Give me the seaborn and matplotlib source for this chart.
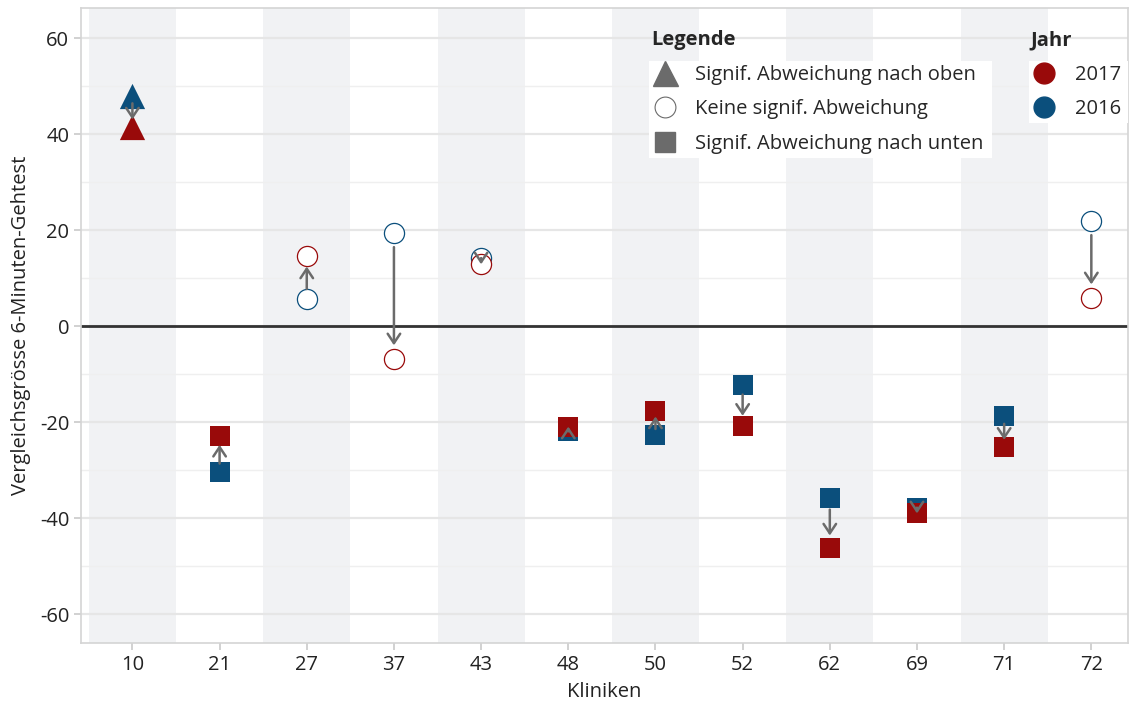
import matplotlib
matplotlib.use("Agg")
import matplotlib.pyplot as plt
from matplotlib.lines import Line2D
from matplotlib.patches import Rectangle
from matplotlib.transforms import IdentityTransform
import pandas as pd
import seaborn as sns

# Daten
kliniken = ["10", "21", "27", "37", "43", "48", "50", "52", "62", "69", "71", "72"]
wert_2016 = [48.0, -30.4, 5.6, 19.4, 14.2, -21.9, -22.6, -12.2, -35.7, -37.8, -18.8, 21.9]
wert_2017 = [41.5, -22.9, 14.6, -6.9, 12.9, -20.9, -17.6, -20.7, -46.1, -39.0, -25.2, 5.8]
signif = ["oben", "unten", "keine", "keine", "keine", "unten",
          "unten", "unten", "unten", "unten", "unten", "keine"]

legende_labels = ["Signif. Abweichung nach oben", "Keine signif. Abweichung",
                  "Signif. Abweichung nach unten"]
jahre = ["2017", "2016"]

farben = {"2016": "#0b4f7c", "2017": "#990a0a"}
grau = "#6b6b6b"
marker_map = {"oben": ("^", 330), "keine": ("o", 210), "unten": ("s", 190)}

rows = []
for i, k in enumerate(kliniken):
    rows.append({"pos": i, "Klinik": k, "Jahr": "2016", "Wert": wert_2016[i], "Signif": signif[i]})
    rows.append({"pos": i, "Klinik": k, "Jahr": "2017", "Wert": wert_2017[i], "Signif": signif[i]})
df = pd.DataFrame(rows)

sns.set_theme(style="white")
plt.rcParams["font.family"] = ["Open Sans", "DejaVu Sans"]
plt.rcParams["axes.unicode_minus"] = False
FS = 14.5

fig = plt.figure(figsize=(11.31, 7.02), dpi=100)
ax = fig.add_axes([0.0716, 0.084, 0.9257, 0.9046])

# Hintergrundstreifen
for i in range(0, len(kliniken), 2):
    ax.axvspan(i - 0.5, i + 0.5, color="#f1f2f4", zorder=0, lw=0)

ax.axhline(0, color="#333333", lw=2, zorder=1)

# Punkte: erst 2016, dann 2017
for jahr in ["2016", "2017"]:
    for sig, (m, s) in marker_map.items():
        sub = df[(df["Jahr"] == jahr) & (df["Signif"] == sig)]
        if sub.empty:
            continue
        if sig == "keine":
            sns.scatterplot(data=sub, x="pos", y="Wert", marker=m, s=s, color=farben[jahr],
                            facecolor="white", edgecolor=farben[jahr], linewidth=0.9,
                            ax=ax, zorder=3, legend=False)
        else:
            sns.scatterplot(data=sub, x="pos", y="Wert", marker=m, s=s, color=farben[jahr],
                            linewidth=0, ax=ax, zorder=3, legend=False)

# Pfeile 2016 -> 2017
for i in range(len(kliniken)):
    d_px = abs(wert_2017[i] - wert_2016[i]) * 4.8
    shrink = 0 if d_px < 12 else min(14, 0.24 * d_px) * 0.72
    ax.annotate("", xy=(i, wert_2017[i]), xytext=(i, wert_2016[i]),
                arrowprops=dict(arrowstyle="->,head_length=0.45,head_width=0.3",
                                color=grau, lw=1.8, shrinkA=shrink, shrinkB=shrink,
                                mutation_scale=15),
                zorder=4)

ax.set_xlim(-0.59, 11.42)
ax.set_ylim(-66, 66.3)
ax.set_xticks(range(len(kliniken)))
ax.set_xticklabels(kliniken)
ax.set_yticks(range(-60, 61, 20))
ax.set_yticks(range(-60, 61, 10), minor=True)
ax.set_axisbelow(True)
ax.grid(which="major", axis="y", color="#e6e6e6", lw=1.6)
ax.grid(which="minor", axis="y", color="#efefef", lw=1.0)
ax.tick_params(axis="both", which="major", length=5, color="#cccccc", labelsize=FS,
               labelcolor="#222222", left=True, bottom=True)
ax.tick_params(axis="y", which="minor", length=0)
for sp in ax.spines.values():
    sp.set_color("#d4d4d4")
    sp.set_linewidth(1.2)

ax.set_xlabel("Kliniken", fontsize=FS, color="#222222", labelpad=5)
ax.set_ylabel("Vergleichsgrösse 6-Minuten-Gehtest", fontsize=FS, color="#222222", labelpad=6)

# Legenden
leg_kw = dict(loc="upper left", frameon=False, alignment="left", fontsize=FS,
              title_fontproperties={"weight": "bold", "size": FS},
              labelspacing=0.72, borderpad=0.1, borderaxespad=0)
h1 = [Line2D([], [], ls="", marker="^", color=grau, ms=18),
      Line2D([], [], ls="", marker="o", mfc="white", mec=grau, mew=0.8, ms=15),
      Line2D([], [], ls="", marker="s", color=grau, ms=14)]
leg1 = ax.legend(h1, legende_labels, title="Legende", bbox_to_anchor=(0.5425, 0.968),
                 handlelength=1.4, handletextpad=0.8, **leg_kw)
ax.add_artist(leg1)

h2 = [Line2D([], [], ls="", marker="o", color=farben[j], ms=15) for j in jahre]
leg2 = ax.legend(h2, jahre, title="Jahr", bbox_to_anchor=(0.9054, 0.968),
                 handlelength=1.3, handletextpad=0.9, **leg_kw)

# weisse Flaeche hinter den Legendeneintraegen
fig.canvas.draw()
renderer = fig.canvas.get_renderer()
for leg, extra_r in [(leg1, 8), (leg2, 12)]:
    bb = leg._legend_handle_box.get_window_extent(renderer)
    ax.add_patch(Rectangle((bb.x0 - 2, bb.y0 - 4), bb.width + 2 + extra_r, bb.height + 8,
                           transform=IdentityTransform(), facecolor="white",
                           edgecolor="none", zorder=4.5))

fig.savefig("out.png", dpi=100)
